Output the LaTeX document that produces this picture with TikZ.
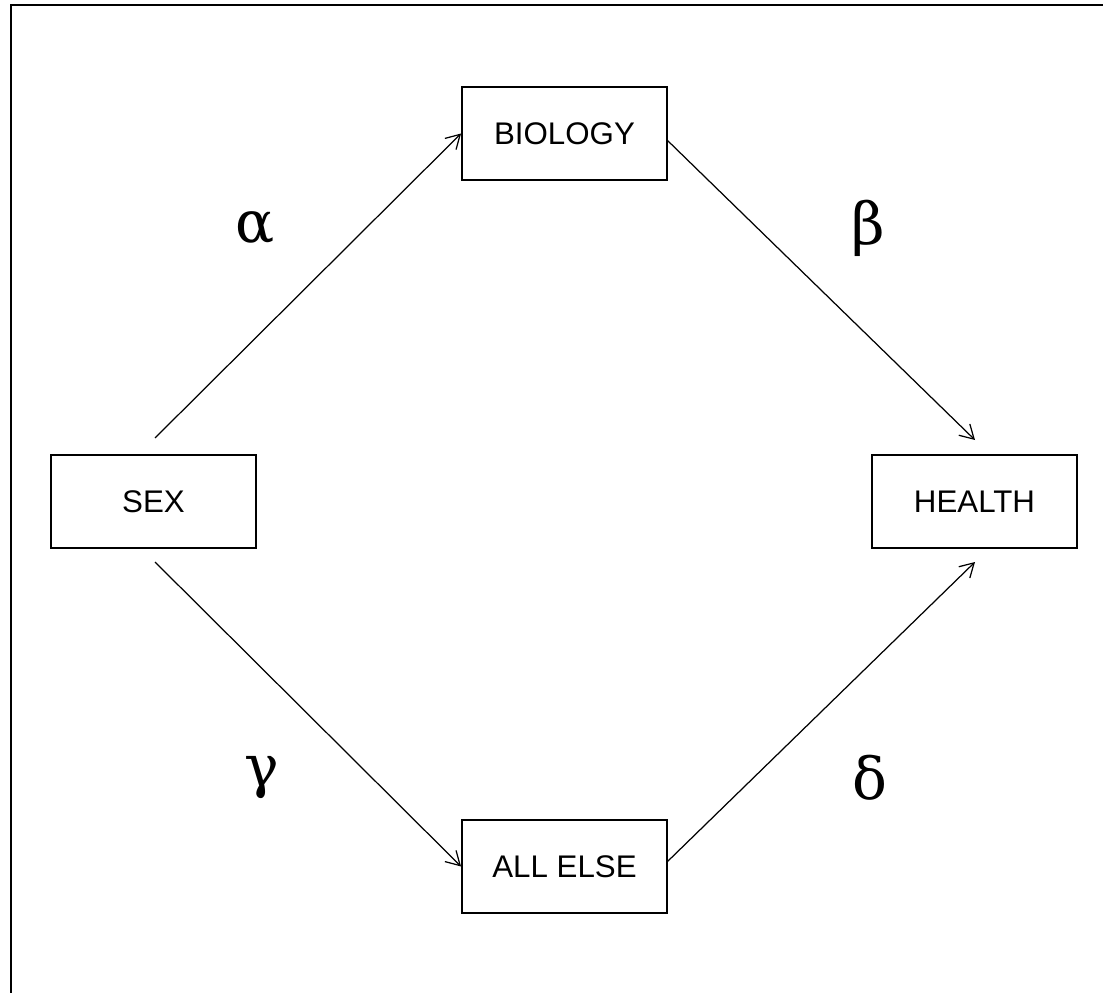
\documentclass[tikz,border=0pt]{standalone}
\usepackage{fontspec}
\setmainfont{Liberation Sans}
\newfontfamily\greekfont{DejaVu Serif}
\usetikzlibrary{arrows.meta}
\tikzset{
  box/.style={draw,line width=1.1pt,minimum width=4.1cm,minimum height=1.86cm,
    inner sep=0pt,font=\fontsize{17.8}{20}\selectfont},
  link/.style={line width=.7pt,-{Straight Barb[angle=60:9pt]}},
  coef/.style={font=\greekfont\fontsize{33}{38}\selectfont}
}
\begin{document}
\begin{tikzpicture}[x=.02cm,y=-.02cm]
  \useasboundingbox (0,0) rectangle (1103,993);
  \draw[line width=1.1pt] (11,993) -- (11,5) -- (1103,5);
  \node[box] (bio) at (564.5,133.5) {BIOLOGY};
  \node[box] (sex) at (153.5,501.5) {SEX};
  \node[box] (hlt) at (974.5,501.5) {HEALTH};
  \node[box] (els) at (564.5,866.5) {ALL ELSE};
  \coordinate (s1) at (155,438); \coordinate (s2) at (155,562);
  \coordinate (b1) at (667,140); \coordinate (e1) at (667,862);
  \coordinate (h1) at (975,440); \coordinate (h2) at (975,562);
  \draw[link] (s1) -- (bio.west);
  \draw[link] (b1) -- (h1);
  \draw[link] (s2) -- (els.west);
  \draw[link] (e1) -- (h2);
  \node[coef] (a) at (255,228) {α};
  \node[coef] (b) at (868,228) {β};
  \node[coef] (g) at (262,778) {γ};
  \node[coef] (d) at (870,778) {δ};
\end{tikzpicture}
\end{document}
